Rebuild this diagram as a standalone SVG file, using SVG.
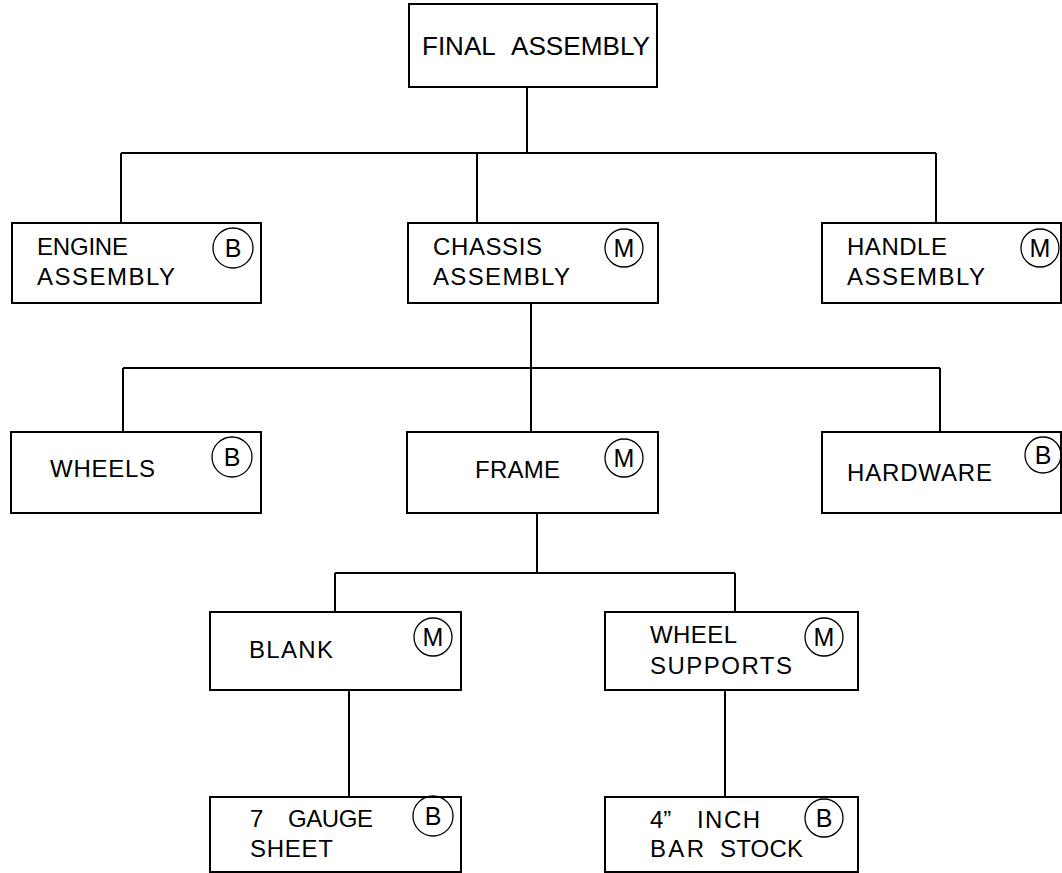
<svg xmlns="http://www.w3.org/2000/svg" width="1062" height="873" viewBox="0 0 1062 873">
<style>
.box{fill:#fff;stroke:#000;stroke-width:2}
.c{fill:none;stroke:#000;stroke-width:1.3}
.t{font-family:"Liberation Sans",Arial,sans-serif;font-size:24px;fill:#000}
.m{font-family:"Liberation Sans",Arial,sans-serif;font-size:25px;fill:#000;text-anchor:middle}
#connectors path{fill:none;stroke:#000;stroke-width:2}
</style>
<rect width="1062" height="873" fill="#fff"/>
<g id="connectors">
<path d="M527 87V153M121 153H936M121 153V223M477 153V223M936 153V223"/>
<path d="M531 303V368M123 368H940M123 368V432M531 368V432M940 368V432"/>
<path d="M537 513V573M335 573H735M335 573V612M735 573V612"/>
<path d="M349 690V797M725 690V797"/>
</g>
<g id="final">
<rect class="box" x="409" y="4" width="248" height="83"/>
<text class="t" style="font-size:26px" x="422" y="55">FINAL</text>
<text class="t" style="font-size:26px" x="511" y="55" textLength="139" lengthAdjust="spacingAndGlyphs">ASSEMBLY</text>
</g>
<g id="engine">
<rect class="box" x="12" y="223" width="249" height="80"/>
<text class="t" x="37" y="255" textLength="91" lengthAdjust="spacing">ENGINE</text>
<text class="t" x="37" y="285" textLength="138" lengthAdjust="spacing">ASSEMBLY</text>
<circle class="c" cx="233" cy="248" r="20"/><text class="m" x="233" y="257">B</text>
</g>
<g id="chassis">
<rect class="box" x="408" y="223" width="250" height="80"/>
<text class="t" x="433" y="255" textLength="109" lengthAdjust="spacing">CHASSIS</text>
<text class="t" x="433" y="285" textLength="137" lengthAdjust="spacing">ASSEMBLY</text>
<circle class="c" cx="624" cy="248" r="19"/><text class="m" x="624" y="257">M</text>
</g>
<g id="handle">
<rect class="box" x="822" y="223" width="239" height="80"/>
<text class="t" x="847" y="255" textLength="100" lengthAdjust="spacing">HANDLE</text>
<text class="t" x="847" y="285" textLength="138" lengthAdjust="spacing">ASSEMBLY</text>
<circle class="c" cx="1040" cy="248" r="19"/><text class="m" x="1040" y="257">M</text>
</g>
<g id="wheels">
<rect class="box" x="11" y="432" width="250" height="81"/>
<text class="t" x="50" y="477" textLength="105" lengthAdjust="spacing">WHEELS</text>
<circle class="c" cx="232" cy="457" r="20"/><text class="m" x="232" y="466">B</text>
</g>
<g id="frame">
<rect class="box" x="407" y="432" width="251" height="81"/>
<text class="t" x="475" y="478" textLength="85" lengthAdjust="spacing">FRAME</text>
<circle class="c" cx="624" cy="458" r="19"/><text class="m" x="624" y="467">M</text>
</g>
<g id="hardware">
<rect class="box" x="822" y="432" width="239" height="81"/>
<text class="t" x="847" y="481" textLength="145" lengthAdjust="spacing">HARDWARE</text>
<circle class="c" cx="1043" cy="455" r="18"/><text class="m" x="1043" y="464">B</text>
</g>
<g id="blank">
<rect class="box" x="210" y="612" width="251" height="78"/>
<text class="t" x="249" y="658" textLength="84" lengthAdjust="spacing">BLANK</text>
<circle class="c" cx="433" cy="637" r="19"/><text class="m" x="433" y="646">M</text>
</g>
<g id="wheelsupports">
<rect class="box" x="605" y="612" width="253" height="78"/>
<text class="t" x="650" y="643" textLength="87" lengthAdjust="spacing">WHEEL</text>
<text class="t" x="650" y="674" textLength="142" lengthAdjust="spacing">SUPPORTS</text>
<circle class="c" cx="824" cy="637" r="19"/><text class="m" x="824" y="646">M</text>
</g>
<g id="gauge">
<rect class="box" x="210" y="797" width="251" height="75"/>
<text class="t" x="250" y="827">7</text>
<text class="t" x="288" y="827" textLength="85" lengthAdjust="spacing">GAUGE</text>
<text class="t" x="250" y="857" textLength="83" lengthAdjust="spacing">SHEET</text>
<circle class="c" cx="433" cy="816" r="20"/><text class="m" x="433" y="825">B</text>
</g>
<g id="barstock">
<rect class="box" x="605" y="797" width="253" height="75"/>
<text class="t" x="650" y="828">4”</text>
<text class="t" x="697" y="828" textLength="63" lengthAdjust="spacing">INCH</text>
<text class="t" x="650" y="857" textLength="54" lengthAdjust="spacing">BAR</text>
<text class="t" x="720" y="857" textLength="83" lengthAdjust="spacing">STOCK</text>
<circle class="c" cx="824" cy="818" r="19"/><text class="m" x="824" y="827">B</text>
</g>
</svg>
